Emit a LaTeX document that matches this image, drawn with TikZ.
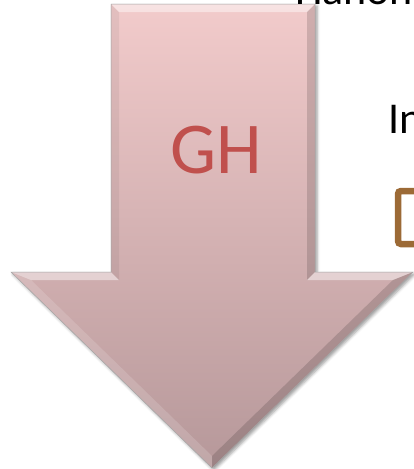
\documentclass[tikz,border=0pt]{standalone}
\usepackage{fontspec}
\setmainfont{Carlito}
\usetikzlibrary{shadows.blur}
\definecolor{arrowtop}{HTML}{F2CBCB}
\definecolor{arrowbot}{HTML}{B6989A}
\definecolor{ghred}{HTML}{C0504D}
\definecolor{boxbrown}{HTML}{9C6A36}
\begin{document}
\begin{tikzpicture}[x=1pt,y=-1pt]
\tikzstyle{every node}+=[inner sep=0pt]
\tikzstyle{lit}=[fill=white,fill opacity=0.45,draw=none]
\tikzstyle{dim}=[fill=black,fill opacity=0.14,draw=none]
\clip (0,0) rectangle (414,469);
% outline of the arrow
\coordinate (a) at (111,4);
\coordinate (b) at (315,4);
\coordinate (c) at (315,272);
\coordinate (d) at (413,272);
\coordinate (e) at (212,468);
\coordinate (f) at (11,272);
\coordinate (g) at (111,272);
% bevel corners
\coordinate (ai) at (119,12);
\coordinate (bi) at (307,12);
\coordinate (ci) at (307,280);
\coordinate (di) at (393,280);
\coordinate (ei) at (212,456);
\coordinate (fi) at (31,280);
\coordinate (gi) at (119,280);
\shade [top color=arrowtop,bottom color=arrowbot,
  blur shadow={shadow xshift=2pt,shadow yshift=-2pt,shadow blur radius=3pt}]
  (a) -- (b) -- (c) -- (d) -- (e) -- (f) -- (g) -- cycle;
\fill [lit] (a) -- (b) -- (bi) -- (ai) -- cycle;
\fill [dim] (b) -- (c) -- (ci) -- (bi) -- cycle;
\fill [lit] (c) -- (d) -- (di) -- (ci) -- cycle;
\fill [dim] (d) -- (e) -- (ei) -- (di) -- cycle;
\fill [lit,fill opacity=0.15] (e) -- (f) -- (fi) -- (ei) -- cycle;
\fill [lit] (f) -- (g) -- (gi) -- (fi) -- cycle;
\fill [dim,fill opacity=0.06] (g) -- (a) -- (ai) -- (gi) -- cycle;
\draw [black!35,line width=0.5pt] (a) -- (b) -- (c) -- (d) -- (e) -- (f) -- (g) -- cycle;
\node [text=ghred,font=\fontsize{73}{76}\selectfont,anchor=base] (gh) at (216,173) {GH};
% text to the right
\node [anchor=base west,font=\fontsize{44}{46}\selectfont] (top) at (295,4) {Hanon};
\node [anchor=base west,font=\fontsize{44}{46}\selectfont] (in) at (388,133) {In};
\draw [boxbrown,line width=6.5pt,rounded corners=3pt] (398,191) rectangle (440,244);
\end{tikzpicture}
\end{document}
